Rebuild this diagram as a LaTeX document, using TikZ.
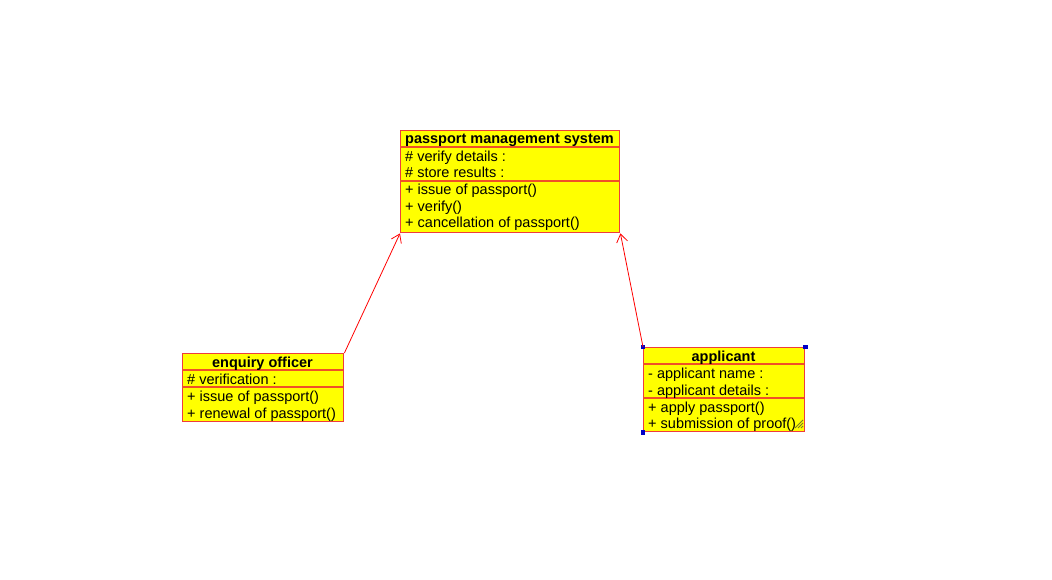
\documentclass[tikz,border=0pt]{standalone}
\usepackage{fontspec}
\setmainfont{Liberation Sans}
\usetikzlibrary{arrows.meta}
\definecolor{umlred}{RGB}{238,60,60}
\definecolor{umlsep}{RGB}{240,80,40}
\definecolor{umlyellow}{RGB}{255,255,0}
\definecolor{handle}{RGB}{0,0,200}
\definecolor{hatch}{RGB}{120,120,40}
\tikzset{
  classbox/.style={draw=umlred, fill=umlyellow, line width=1.4pt, inner sep=0pt, anchor=north west},
  sepline/.style={draw=umlsep, line width=1.4pt},
  ttl/.style={font=\fontsize{14.5}{16}\selectfont\bfseries, inner sep=0pt, anchor=base},
  item/.style={font=\fontsize{14.5}{16}\selectfont, inner sep=0pt, anchor=base west},
  assoc/.style={draw=red, line width=0.8pt, -{Straight Barb[length=8pt,width=11pt,line width=0.8pt]}},
  handlebox/.style={fill=handle, minimum size=4.5pt, inner sep=0pt, draw=none}
}
\begin{document}
\begin{tikzpicture}[x=1pt,y=-1pt]
\useasboundingbox (0,0) rectangle (1052,580);
% passport management system
\node[classbox, minimum width=219pt, minimum height=102pt] (pms) at (400,130) {};
\draw[sepline] (400,147) coordinate (pmsA) -- (619,147) coordinate (pmsB);
\draw[sepline] (400,181) coordinate (pmsC) -- (619,181) coordinate (pmsD);
\node[ttl] (pmsT) at (509.5,144) {passport management system};
\node[item] (pms1) at (405,161.5) {\# verify details :};
\node[item] (pms2) at (405,178) {\# store results :};
\node[item] (pms3) at (405,195) {+ issue of passport()};
\node[item] (pms4) at (405,211.5) {+ verify()};
\node[item] (pms5) at (405,228) {+ cancellation of passport()};
% enquiry officer
\node[classbox, minimum width=161pt, minimum height=68pt] (eo) at (182,353) {};
\draw[sepline] (182,370) coordinate (eoA) -- (343,370) coordinate (eoB);
\draw[sepline] (182,387) coordinate (eoC) -- (343,387) coordinate (eoD);
\node[ttl] (eoT) at (262.5,367) {enquiry officer};
\node[item] (eo1) at (187,384.5) {\# verification :};
\node[item] (eo2) at (187,401) {+ issue of passport()};
\node[item] (eo3) at (187,418) {+ renewal of passport()};
% applicant
\node[classbox, minimum width=161pt, minimum height=84pt] (ap) at (643,347) {};
\draw[sepline] (643,364) coordinate (apA) -- (804,364) coordinate (apB);
\draw[sepline] (643,398) coordinate (apC) -- (804,398) coordinate (apD);
\node[ttl] (apT) at (723.5,361) {applicant};
\node[item] (ap1) at (648,378.5) {- applicant name :};
\node[item] (ap2) at (648,395) {- applicant details :};
\node[item] (ap3) at (648,412) {+ apply passport()};
\node[item] (ap4) at (648,428.5) {+ submission of proof()};
% selection handles
\node[handlebox] (h1) at (ap.north west) {};
\node[handlebox] (h2) at (ap.north east) {};
\node[handlebox] (h3) at (ap.south west) {};
\draw[hatch, line width=0.8pt] (803,420) -- (795,428) (803,423) -- (798,428) (803,426) -- (801,428);
% associations
\draw[assoc] (eo.north east) -- (pms.south west);
\draw[assoc] (ap.north west) -- (pms.south east);
\end{tikzpicture}
\end{document}
